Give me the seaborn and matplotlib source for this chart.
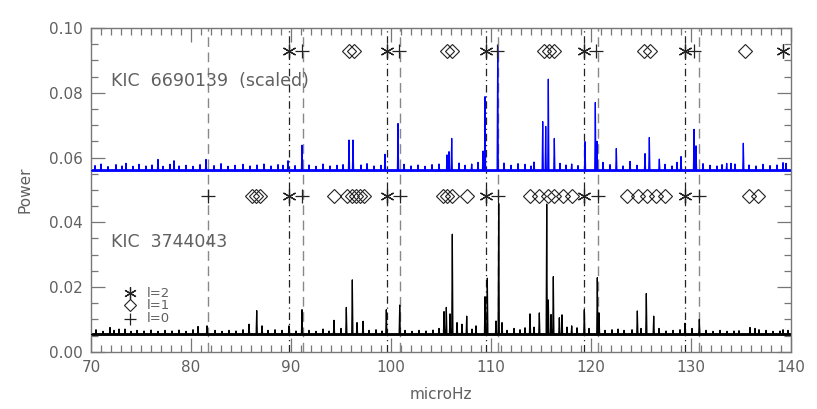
import numpy as np
import pandas as pd
import matplotlib
matplotlib.use("Agg")
from matplotlib import pyplot as plt
from matplotlib.ticker import MultipleLocator, FormatStrFormatter
import seaborn as sns

# peaks (microHz, power)
upper_freq = [76.7, 78.3, 81.5, 89.7, 91.1, 95.8, 96.2, 99.4, 100.7, 105.6, 105.8, 106.07,
              108.07, 109.2, 109.4, 110.67, 112.7, 114.3, 115.17, 115.47, 115.73, 116.33,
              118.07, 119.4, 120.43, 120.6, 122.53, 125.4, 125.83, 126.83, 129.0, 130.3,
              130.5, 133.57, 134.4, 135.23, 139.2]
upper_pow = [0.0594, 0.0590, 0.0594, 0.0590, 0.0638, 0.0654, 0.0654, 0.0610, 0.0705, 0.0608,
             0.0618, 0.0659, 0.0580, 0.0620, 0.0788, 0.0942, 0.0581, 0.0586, 0.0711, 0.0696,
             0.0842, 0.0659, 0.0580, 0.0649, 0.0770, 0.0650, 0.0628, 0.0612, 0.0662, 0.0595,
             0.0603, 0.0687, 0.0636, 0.0582, 0.0580, 0.0644, 0.0584]
# the little grass spikes on top of the noise floor
upper_grass_freq = [70.4, 71.0, 71.7, 72.5, 73.1, 73.5, 74.2, 74.8, 75.5, 76.1, 77.2, 77.9,
                    78.8, 79.5, 80.2, 80.9, 82.3, 83.0, 83.7, 84.4, 85.2, 85.9, 86.6, 87.3,
                    88.0, 88.7, 89.2, 90.4, 91.8, 92.5, 93.2, 93.9, 94.6, 95.2, 97.0, 97.6,
                    98.3, 99.0, 101.3, 102.0, 102.7, 103.4, 104.1, 104.8, 106.8, 107.4,
                    108.7, 111.3, 112.0, 113.4, 114.0, 116.9, 117.5, 118.7, 121.2, 121.9,
                    123.2, 123.9, 124.6, 127.4, 128.1, 128.6, 131.2, 131.9, 132.6, 133.1,
                    134.0, 135.8, 136.5, 137.2, 137.9, 138.6, 139.5]
upper_grass_pow = [0.0575, 0.0580, 0.0572, 0.0578, 0.0574, 0.0582, 0.0573, 0.0579, 0.0574,
                   0.0577, 0.0573, 0.0579, 0.0574, 0.0576, 0.0573, 0.0578, 0.0575, 0.0581,
                   0.0573, 0.0576, 0.0579, 0.0574, 0.0577, 0.0580, 0.0574, 0.0578, 0.0576,
                   0.0575, 0.0577, 0.0573, 0.0580, 0.0574, 0.0576, 0.0578, 0.0577, 0.0581,
                   0.0574, 0.0576, 0.0579, 0.0574, 0.0577, 0.0573, 0.0578, 0.0580, 0.0583,
                   0.0576, 0.0585, 0.0583, 0.0576, 0.0579, 0.0574, 0.0582, 0.0577, 0.0575,
                   0.0585, 0.0578, 0.0574, 0.0588, 0.0576, 0.0579, 0.0574, 0.0585, 0.0581,
                   0.0576, 0.0574, 0.0578, 0.0582, 0.0577, 0.0574, 0.0579, 0.0575, 0.0577,
                   0.0582]

lower_freq = [71.9, 72.8, 80.7, 81.6, 85.8, 86.57, 87.1, 89.8, 91.1, 94.3, 95.53, 96.13,
              96.6, 97.2, 99.53, 100.87, 105.3, 105.53, 105.9, 106.13, 106.6, 107.57, 108.5,
              109.4, 109.63, 110.5, 110.77, 111.1, 113.9, 114.83, 115.57, 115.73, 116.0,
              116.23, 116.83, 117.1, 118.07, 119.33, 120.63, 120.8, 124.63, 125.53, 126.27,
              129.4, 130.83, 135.9]
lower_pow = [0.0075, 0.0070, 0.0078, 0.0080, 0.0085, 0.0127, 0.0080, 0.0080, 0.0130, 0.0097,
             0.0137, 0.0222, 0.0090, 0.0094, 0.0130, 0.0144, 0.0124, 0.0137, 0.0117, 0.0363,
             0.0090, 0.0110, 0.0080, 0.0170, 0.0227, 0.0095, 0.0458, 0.0090, 0.0117, 0.0120,
             0.0456, 0.0160, 0.0115, 0.0232, 0.0105, 0.0114, 0.0080, 0.0130, 0.0229, 0.0120,
             0.0126, 0.0180, 0.0110, 0.0088, 0.0100, 0.0075]
lower_grass_freq = [70.5, 71.2, 72.3, 73.4, 74.0, 74.6, 75.3, 76.0, 76.7, 77.4, 78.1, 78.8,
                    79.5, 80.2, 82.4, 83.1, 83.8, 84.5, 85.2, 87.7, 88.4, 89.1, 90.5, 91.8,
                    92.5, 93.2, 93.8, 95.0, 97.8, 98.5, 99.1, 101.4, 102.1, 102.8, 103.5,
                    104.2, 104.8, 107.1, 108.1, 111.6, 112.3, 112.9, 113.4, 114.3, 117.6,
                    118.6, 119.8, 121.4, 122.1, 122.7, 123.3, 124.1, 125.0, 126.8, 127.5,
                    128.2, 128.9, 130.1, 131.5, 132.2, 132.9, 133.6, 134.3, 134.8, 136.4,
                    136.8, 137.5, 138.2, 138.9, 139.2, 139.7]
lower_grass_pow = [0.0068, 0.0063, 0.0066, 0.0070, 0.0063, 0.0066, 0.0064, 0.0067, 0.0063,
                   0.0066, 0.0064, 0.0067, 0.0063, 0.0068, 0.0066, 0.0063, 0.0066, 0.0064,
                   0.0068, 0.0066, 0.0068, 0.0066, 0.0064, 0.0066, 0.0063, 0.0070, 0.0064,
                   0.0072, 0.0066, 0.0068, 0.0064, 0.0066, 0.0063, 0.0066, 0.0064, 0.0067,
                   0.0072, 0.0085, 0.0070, 0.0066, 0.0072, 0.0068, 0.0074, 0.0076, 0.0076,
                   0.0074, 0.0072, 0.0066, 0.0068, 0.0070, 0.0066, 0.0068, 0.0072, 0.0072,
                   0.0064, 0.0066, 0.0068, 0.0072, 0.0066, 0.0063, 0.0066, 0.0063, 0.0064,
                   0.0065, 0.0072, 0.0068, 0.0066, 0.0063, 0.0064, 0.0068, 0.0066]

upper_base, upper_noise = 0.0554, 0.0566
lower_base, lower_noise = 0.0049, 0.0059

# mode markers
l0_upper = [91.1, 100.8, 110.6, 120.5, 130.3]
l1_upper = [95.8, 96.3, 105.6, 106.1, 115.3, 115.8, 116.3, 125.3, 125.9, 135.4]
l2_upper = [89.8, 99.6, 109.5, 119.3, 129.4, 139.2]
l0_lower = [81.7, 91.1, 100.9, 110.7, 120.7, 130.8]
l1_lower = [86.1, 86.5, 86.9, 94.3, 95.6, 96.1, 96.5, 96.9, 97.3, 105.2, 105.6, 106.1, 107.6,
            113.9, 114.8, 115.7, 116.3, 117.2, 118.1, 123.6, 124.7, 125.6, 126.5, 127.4,
            135.8, 136.7]
l2_lower = [89.8, 99.6, 109.5, 119.3, 129.4]
marker_y_upper = 0.093
marker_y_lower = 0.0481

# vertical guide lines
l0_lines = [81.7, 91.15, 100.9, 110.7, 120.7, 130.8]
l2_lines = [89.8, 99.6, 109.5, 119.3, 129.4]


def spike_table(freq, power, base, half=0.06):
    pts = sorted(zip(freq, power))
    xs, ys = [70.0], [base]
    for f, p in pts:
        xs += [f - half, f, f + half]
        ys += [base, p, base]
    xs.append(140.0)
    ys.append(base)
    return pd.DataFrame({"freq": xs, "power": ys})


sns.set_style("ticks")
grey = "#606060"
plt.rcParams["font.family"] = ["DejaVu Sans"]
plt.rcParams["text.color"] = grey

fig = plt.figure(figsize=(8.17, 4.09), dpi=100)
ax = fig.add_axes([0.1114, 0.140, 0.8568, 0.7915])

for x in l0_lines:
    ax.axvline(x, color="#888888", lw=1.0, ls=(0, (7, 4)), zorder=1)
for x in l2_lines:
    ax.axvline(x, color="#222222", lw=0.9, ls=(0, (6, 3, 1, 3)), zorder=1)

up = spike_table(upper_freq + upper_grass_freq, upper_pow + upper_grass_pow, upper_base + 0.0005)
lo = spike_table(lower_freq + lower_grass_freq, lower_pow + lower_grass_pow, lower_base + 0.0004)
ax.fill_between([70, 140], upper_base, upper_noise, color="#2020ff", lw=0, zorder=2)
ax.fill_between([70, 140], lower_base, lower_noise, color="#111111", lw=0, zorder=2)
sns.lineplot(data=up, x="freq", y="power", color="blue", lw=0.9, estimator=None,
             sort=False, ax=ax, zorder=3)
sns.lineplot(data=lo, x="freq", y="power", color="black", lw=0.9, estimator=None,
             sort=False, ax=ax, zorder=3)

ast = (6, 2, 0)
mk = dict(color="#222222", ls="none", zorder=4)
ax.plot(l2_upper, [marker_y_upper] * len(l2_upper), marker=ast, ms=10, mew=0.9, **mk)
ax.plot(l1_upper, [marker_y_upper] * len(l1_upper), marker="D", ms=7, mfc="none", mew=0.8, **mk)
ax.plot(l0_upper, [marker_y_upper] * len(l0_upper), marker="+", ms=10, mew=0.9, **mk)
ax.plot(l2_lower, [marker_y_lower] * len(l2_lower), marker=ast, ms=10, mew=0.9, **mk)
ax.plot(l1_lower, [marker_y_lower] * len(l1_lower), marker="D", ms=7, mfc="none", mew=0.8, **mk)
ax.plot(l0_lower, [marker_y_lower] * len(l0_lower), marker="+", ms=10, mew=0.9, **mk)

# legend drawn by hand like the original
ax.plot([73.9], [0.0181], marker=ast, ms=9, mew=0.9, **mk)
ax.plot([73.9], [0.0143], marker="D", ms=6, mfc="none", mew=0.8, **mk)
ax.plot([73.9], [0.0102], marker="+", ms=9, mew=0.9, **mk)
ax.text(75.6, 0.0181, "l=2", fontsize=9.5, va="center")
ax.text(75.6, 0.0143, "l=1", fontsize=9.5, va="center")
ax.text(75.6, 0.0102, "l=0", fontsize=9.5, va="center")

ax.text(72.0, 0.0836, "KIC  6690139  (scaled)", fontsize=12.5, va="center")
ax.text(72.0, 0.0340, "KIC  3744043", fontsize=12.5, va="center")

ax.set_xlim(70, 140)
ax.set_ylim(0, 0.1)
ax.xaxis.set_major_locator(MultipleLocator(10))
ax.xaxis.set_minor_locator(MultipleLocator(1))
ax.yaxis.set_major_locator(MultipleLocator(0.02))
ax.yaxis.set_minor_locator(MultipleLocator(0.005))
ax.yaxis.set_major_formatter(FormatStrFormatter("%.2f"))
ax.tick_params(which="both", direction="in", top=True, right=True, colors="#777777",
               labelcolor=grey, labelsize=11, width=0.9)
ax.tick_params(which="major", length=10, pad=6)
ax.tick_params(which="minor", length=5)
for s in ax.spines.values():
    s.set_color("#777777")
    s.set_linewidth(1.0)

ax.set_xlabel("microHz", fontsize=11, color=grey)
ax.set_ylabel("Power", fontsize=11, color=grey)
ax.xaxis.set_label_coords(0.5, -0.11)
ax.yaxis.set_label_coords(-0.083, 0.5)

fig.savefig("out.png", dpi=100)
